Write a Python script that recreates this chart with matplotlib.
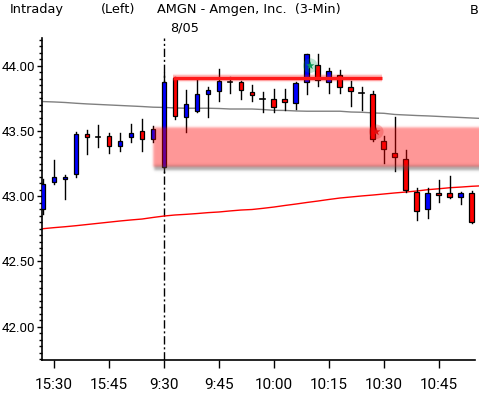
import numpy as np
import matplotlib
matplotlib.use("Agg")
import matplotlib.pyplot as plt
import matplotlib.ticker as mticker
from matplotlib.patches import Rectangle

# ──────────────────────────────────────────────
# Data (3-min bars, index 0 = 15:30 of the previous day)
# ──────────────────────────────────────────────
bar_idx = np.arange(-1, 39)

opens = [42.90, 43.11, 43.13, 43.17, 43.477, 43.454, 43.459, 43.382, 43.451, 43.502,
         43.436, 43.221, 43.906, 43.609, 43.655, 43.785, 43.808, 43.873, 43.873, 43.796,
         43.745, 43.747, 43.743, 43.712, 43.873, 44.003, 43.873, 43.926, 43.834, 43.793,
         43.781, 43.423, 43.329, 43.283, 43.03, 42.90, 43.022, 43.022, 42.992, 43.022]
highs = [43.13, 43.28, 43.165, 43.49, 43.507, 43.546, 43.487, 43.482, 43.553, 43.589,
         43.538, 43.942, 43.91, 43.814, 43.896, 43.837, 43.975, 43.911, 43.883, 43.852,
         43.798, 43.821, 43.821, 43.873, 44.09, 44.09, 43.982, 43.967, 43.883, 43.837,
         43.804, 43.461, 43.605, 43.354, 43.06, 43.065, 43.124, 43.155, 43.034, 43.038]
lows = [42.86, 43.09, 42.98, 43.15, 43.326, 43.379, 43.329, 43.349, 43.418, 43.349,
        43.418, 43.188, 43.589, 43.49, 43.645, 43.609, 43.732, 43.793, 43.743, 43.732,
        43.648, 43.645, 43.661, 43.67, 43.781, 43.847, 43.793, 43.793, 43.693, 43.663,
        43.425, 43.252, 43.191, 43.032, 42.82, 42.835, 42.958, 42.984, 42.938, 42.797]
closes = [43.09, 43.145, 43.147, 43.475, 43.451, 43.454, 43.385, 43.42, 43.482, 43.436,
          43.517, 43.873, 43.612, 43.707, 43.783, 43.814, 43.88, 43.873, 43.811, 43.773,
          43.745, 43.681, 43.72, 43.867, 44.087, 43.888, 43.959, 43.834, 43.804, 43.793,
          43.436, 43.359, 43.298, 43.045, 42.884, 43.022, 43.007, 42.992, 43.022, 42.805]

# moving averages, one value per bar (bars -1 .. 39)
ma_idx = np.arange(-1, 40)
ma_gray = [43.725, 43.722, 43.718, 43.712, 43.707, 43.703, 43.699, 43.695, 43.691, 43.687,
           43.682, 43.680, 43.676, 43.674, 43.674, 43.674, 43.672, 43.668, 43.668, 43.668,
           43.664, 43.658, 43.657, 43.653, 43.651, 43.651, 43.651, 43.651, 43.645, 43.643,
           43.638, 43.635, 43.626, 43.622, 43.618, 43.615, 43.611, 43.607, 43.603, 43.599,
           43.595]
ma_red = [42.751, 42.759, 42.766, 42.774, 42.783, 42.792, 42.801, 42.810, 42.818, 42.825,
          42.837, 42.848, 42.856, 42.861, 42.867, 42.874, 42.879, 42.887, 42.894, 42.898,
          42.907, 42.917, 42.929, 42.940, 42.952, 42.963, 42.975, 42.986, 42.994, 43.002,
          43.009, 43.017, 43.025, 43.032, 43.040, 43.050, 43.057, 43.065, 43.070, 43.076,
          43.080]

# resistance level and supply zone
level_price = 43.903
level_span = [10.8, 29.8]
zone_low, zone_high = 43.221, 43.52
zone_start = 9.0

# signal markers
sig_x = [23.3, 29.3]
sig_y = [44.00, 43.494]
sig_colors = ['#0a9a55', '#e01010']

session_break = 10
tick_pos = [0, 5, 10, 15, 20, 25, 30, 35]
tick_labels = ['15:30', '15:45', '9:30', '9:45', '10:00', '10:15', '10:30', '10:45']

# ──────────────────────────────────────────────
# Figure
# ──────────────────────────────────────────────
W, H = 479, 396
fig = plt.figure(figsize=(W / 100, H / 100), dpi=100)
ax = fig.add_axes([42 / W, 36 / H, 437 / W, 322 / H])
x_lo, x_hi = -1.09, 38.64
y_lo, y_hi = 41.745, 44.212

# moving averages
ax.plot(ma_idx, ma_gray, color='#808080', lw=1.0, zorder=2)
ax.plot(ma_idx, ma_red, color='#ff0000', lw=1.0, zorder=2)

# session break
ax.axvline(session_break, color='black', lw=1.0, ls=(0, (6, 2, 1.5, 2)), zorder=1)

# candles
body_w = 0.45
for i, o, h, l, c in zip(bar_idx, opens, highs, lows, closes):
    ax.plot([i, i], [l, h], color='black', lw=1.0, zorder=3)
    if abs(c - o) < 1e-6:
        ax.plot([i - body_w / 2, i + body_w / 2], [o, o], color='black', lw=1.2, zorder=4)
        continue
    col = '#0000ff' if c > o else '#ff0000'
    ax.add_patch(Rectangle((i - body_w / 2, min(o, c)), body_w, abs(c - o),
                           facecolor=col, edgecolor='black', lw=0.9, zorder=4))

# resistance line with a soft glow
for lw, a in ((6, 0.10), (4.2, 0.20)):
    ax.plot(level_span, [level_price, level_price], color='#ff0000', lw=lw, alpha=a,
            solid_capstyle='butt', zorder=5)
ax.plot(level_span, [level_price, level_price], color='#ff1a1a', lw=2.4,
        solid_capstyle='butt', zorder=5)

# supply zone: soft red box with a grey shadow under it, built as an RGBA image
def to_px_x(v):
    return 54 + 11 * v

def to_px_y(p):
    return 65.7 + (44 - p) * 130.5

zx0, zx1 = to_px_x(zone_start), to_px_x(x_hi) + 20
zy0, zy1 = to_px_y(zone_high), to_px_y(zone_low)
px = np.arange(zx0 - 8, zx1, 0.5)
py = np.arange(zy0 - 8, zy1 + 10, 0.5)
PX, PY = np.meshgrid(px, py)

def soft(x0, x1, y0, y1, s):
    sx = 0.5 * (np.tanh((PX - x0) / s) - np.tanh((PX - x1) / s))
    sy = 0.5 * (np.tanh((PY - y0) / s) - np.tanh((PY - y1) / s))
    return sx * sy

red_a = 0.41 * soft(zx0, zx1, zy0, zy1, 1.3)
shd_a = 0.45 * soft(zx0 + 1, zx1 + 2, zy1 - 1.5, zy1 + 3.5, 1.4)
out_a = red_a + shd_a * (1 - red_a)
img = np.zeros(PX.shape + (4,))
safe = np.where(out_a > 1e-6, out_a, 1)
for k, (rc, gc) in enumerate(zip((1.0, 0.0, 0.0), (0.3, 0.3, 0.3))):
    img[..., k] = (rc * red_a + gc * shd_a * (1 - red_a)) / safe
img[..., 3] = out_a
ext_x0 = (px[0] - 54) / 11
ext_x1 = (px[-1] - 54) / 11
ext_ytop = 44 - (py[0] - 65.7) / 130.5
ext_ybot = 44 - (py[-1] - 65.7) / 130.5
ax.imshow(img, extent=(ext_x0, ext_x1, ext_ybot, ext_ytop), origin='upper',
          aspect='auto', interpolation='bilinear', zorder=6)
ax.set_xlim(x_lo, x_hi)
ax.set_ylim(y_lo, y_hi)

# signal markers
for sx, sy, sc in zip(sig_x, sig_y, sig_colors):
    ax.scatter([sx], [sy], s=110, color=sc, alpha=0.25, edgecolors='none', zorder=7)
    ax.scatter([sx], [sy], s=40, marker='*', color=sc, edgecolors='none', zorder=8)

# ──────────────────────────────────────────────
# Axes styling
# ──────────────────────────────────────────────
tick_font = 'Roboto'
for s in ('top', 'right'):
    ax.spines[s].set_visible(False)
ax.spines['bottom'].set_bounds(x_lo, 38.27)
ax.spines['left'].set_linewidth(1.2)
ax.spines['bottom'].set_linewidth(1.2)

ax.yaxis.set_major_locator(mticker.MultipleLocator(0.5))
ax.yaxis.set_minor_locator(mticker.MultipleLocator(0.05))
ax.yaxis.set_major_formatter(mticker.FormatStrFormatter('%.2f'))
ax.tick_params(axis='y', which='major', length=3.5, width=1, pad=1.5)
ax.tick_params(axis='y', which='minor', length=2, width=1)
ax.set_xticks(tick_pos)
ax.set_xticklabels(tick_labels)
ax.tick_params(axis='x', which='major', length=6, width=1, pad=7)
for lab in ax.get_yticklabels():
    lab.set_family(tick_font)
    lab.set_fontsize(9.6)
for lab in ax.get_xticklabels():
    lab.set_family(tick_font)
    lab.set_fontsize(11)

# header texts
def put(x, y, s):
    fig.text(x / W, 1 - y / H, s, fontsize=9.3, family='DejaVu Sans',
             ha='left', va='baseline')

put(10, 13.5, 'Intraday')
put(101, 13.5, '(Left)')
put(157, 13.5, 'AMGN - Amgen, Inc.  (3-Min)')
put(470, 13.5, 'B')
put(170, 31.5, '8/05')

fig.savefig('out.png', dpi=100)
